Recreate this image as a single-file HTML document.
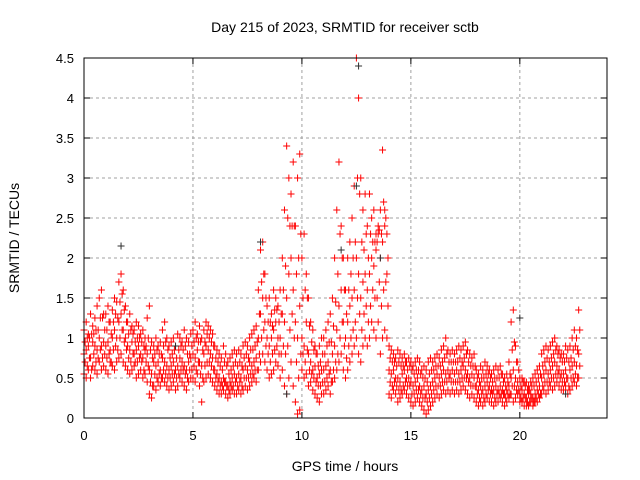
<!DOCTYPE html>
<html><head><meta charset="utf-8"><style>
html,body{margin:0;padding:0;background:#fff;}
svg{display:block;font-family:"Liberation Sans",sans-serif;}
</style></head><body>
<svg id="chart" width="640" height="480" viewBox="0 0 640 480"></svg>
<script>
const xTicks=[0,5,10,15,20];
const yTicks=[0,0.5,1,1.5,2,2.5,3,3.5,4,4.5];
const yTickLabels=["0","0.5","1","1.5","2","2.5","3","3.5","4","4.5"];
const timeStep=0.1;
const lo=[.55,.5,.6,.5,.65,.6,.55,.7,.6,.65, .6,.55,.7,.65,.6,.7,.75,.8,.7,.65, .6,.55,.6,.65,.5,.55,.6,.5,.55,.45, .3,.25,.4,.35,.45,.4,.5,.45,.4,.35, .4,.45,.35,.4,.5,.45,.4,.35,.45,.5, .5,.45,.55,.4,.2,.45,.5,.55,.5,.45, .4,.35,.3,.3,.35,.3,.25,.3,.35,.3, .3,.35,.3,.35,.4,.35,.4,.45,.5,.45, .6,.7,.8,.7,.6,.5,.55,.6,.7,.65, .5,.6,.4,.3,.5,.7,.4,.2,.05,.1, .6,.5,.55,.4,.45,.35,.3,.25,.2,.3, .3,.35,.4,.3,.45,.5,.6,.7,.8,.6, .5,.6,.7,.8,.9,1.0,.8,.7,.9,1.0, .9,1.0,1.2,1.1,1.0,1.2,.8,1.0,1.1,1.0, .3,.25,.35,.3,.2,.25,.3,.35,.3,.25, .2,.15,.2,.25,.2,.15,.1,.05,.1,.15, .2,.25,.3,.25,.3,.35,.3,.35,.3,.35, .3,.35,.3,.35,.4,.35,.3,.25,.3,.25, .2,.15,.2,.15,.2,.25,.2,.2,.15,.2, .2,.25,.2,.15,.2,.25,.3,.2,.25,.3, .2,.2,.15,.15,.15,.2,.15,.2,.2,.25, .3,.35,.3,.35,.4,.35,.4,.45,.4,.35, .35,.4,.3,.35,.4,.45,.4,.5];
const mid=[.8,.85,.9,.75,.95,.9,.85,1.0,.9,.95, .9,.95,.85,1.0,1.1,1.0,1.2,1.3,1.1,1.0, .9,.85,.95,.8,.85,.9,.8,.75,.85,.8, .6,.55,.7,.65,.7,.6,.75,.7,.65,.6, .65,.7,.6,.65,.75,.7,.65,.6,.7,.75, .8,.75,.85,.7,.65,.8,.9,.85,.8,.75, .6,.55,.5,.45,.5,.45,.4,.45,.5,.55, .5,.55,.5,.6,.65,.6,.7,.65,.7,.75, 1.0,1.3,1.5,1.2,1.0,.9,1.0,1.1,1.2,1.0, 1.0,1.3,1.2,1.5,1.8,2.0,1.6,1.2,1.0,1.4, 1.0,.9,1.2,.8,.7,.6,.65,.5,.55,.6, .6,.65,.7,.6,.8,.9,1.1,1.4,1.6,1.2, 1.0,1.2,1.4,1.5,1.6,2.0,1.8,1.5,1.7,1.8, 1.6,1.8,2.0,1.9,2.1,2.3,2.0,2.2,2.4,1.8, .6,.55,.6,.5,.5,.45,.55,.6,.5,.5, .45,.4,.45,.5,.4,.35,.4,.3,.35,.4, .45,.5,.55,.5,.55,.6,.55,.6,.55,.6, .55,.6,.55,.6,.65,.6,.55,.5,.55,.5, .4,.35,.4,.35,.4,.45,.4,.35,.35,.4, .35,.4,.35,.3,.35,.4,.5,.6,.5,.45, .3,.35,.3,.25,.3,.3,.25,.3,.35,.4, .5,.55,.6,.55,.6,.65,.7,.65,.6,.55, .55,.6,.5,.6,.65,.7,.65,.8];
const hi=[1.1,1.2,1.05,1.3,1.15,1.25,1.4,1.5,1.6,1.3, 1.3,1.4,1.2,1.35,1.5,1.45,1.7,1.8,1.6,1.4, 1.2,1.3,1.15,1.1,1.2,1.15,1.05,1.1,1.0,1.25, 1.4,.95,.9,1.0,.9,.95,1.1,1.2,1.0,.9, .95,1.0,.9,1.05,1.0,.95,1.1,1.0,.95,1.05, 1.1,1.2,1.05,1.15,1.0,1.1,1.2,1.15,1.1,1.05, .9,.85,.8,.75,.9,.8,.7,.75,.8,.85, .8,.85,.8,.9,.95,.9,1.0,1.05,1.1,1.15, 1.6,2.1,2.2,1.8,1.4,1.5,1.3,1.6,1.5,1.4, 1.6,2.0,2.6,3.4,3.0,2.8,3.2,2.4,3.0,3.3, 2.0,2.3,1.8,1.5,1.2,1.1,.9,.8,.9,1.0, 1.0,1.1,1.2,1.3,1.5,2.0,2.6,3.2,2.4,2.0, 1.6,2.0,2.2,2.5,2.9,4.5,4.0,3.0,2.6,2.8, 2.4,2.8,2.5,2.6,2.3,2.4,2.6,3.35,2.6,2.3, .9,.85,.8,.75,.85,.8,.75,.8,.7,.75, .7,.65,.7,.75,.7,.6,.65,.6,.7,.75, .7,.75,.8,.75,.85,.9,1.0,.85,.8,.85, .8,.85,.9,.85,.9,.95,.85,.8,.75,.8, .6,.55,.65,.6,.7,.65,.6,.55,.6,.65, .6,.65,.55,.5,.55,.7,1.2,1.35,.9,.7, .5,.5,.45,.45,.4,.45,.5,.55,.6,.65, .8,.85,.9,.85,.9,.95,1.0,.9,.85,.8, .8,.9,.85,.9,1.0,1.1,1.0,1.35];
const q1=[.7,.65,.75,.6,.8,.7,.75,.85,.75,.8, .75,.8,.7,.85,.9,.85,1.0,1.1,.95,.85, .75,.7,.8,.7,.7,.75,.7,.6,.7,.65, .45,.4,.55,.5,.55,.5,.6,.55,.5,.5, .55,.55,.5,.55,.6,.6,.55,.5,.6,.6, .65,.6,.7,.55,.5,.65,.7,.7,.65,.6, .5,.45,.4,.4,.45,.4,.35,.4,.4,.45, .4,.45,.4,.5,.5,.5,.55,.55,.6,.6, .8,1.0,1.1,.9,.8,.7,.8,.85,.9,.8, .8,.9,.8,.9,1.1,1.3,1.0,.7,.5,.8, .8,.7,.85,.6,.55,.5,.45,.4,.4,.45, .45,.5,.55,.45,.6,.7,.8,1.0,1.2,.9, .75,.9,1.0,1.1,1.2,1.5,1.3,1.1,1.3,1.4, 1.2,1.4,1.6,1.5,1.5,1.7,1.4,1.6,1.7,1.4, .45,.4,.45,.4,.35,.35,.4,.45,.4,.4, .3,.3,.35,.35,.3,.25,.25,.2,.25,.3, .35,.4,.4,.4,.45,.45,.45,.5,.45,.45, .45,.45,.45,.5,.5,.5,.45,.4,.4,.4, .3,.25,.3,.25,.3,.35,.3,.3,.25,.3, .3,.3,.3,.25,.3,.3,.4,.4,.35,.35, .25,.25,.25,.2,.2,.25,.2,.25,.3,.3, .4,.45,.45,.45,.5,.5,.55,.55,.5,.45, .45,.5,.4,.5,.5,.55,.5,.65];
const q3=[.95,1.0,1.0,1.05,1.05,1.1,1.1,1.25,1.25,1.1, 1.1,1.2,1.05,1.2,1.3,1.25,1.45,1.55,1.35,1.2, 1.05,1.1,1.05,.95,1.0,1.0,.95,.9,.9,1.0, .85,.75,.8,.85,.8,.8,.9,.95,.85,.75, .8,.85,.75,.85,.9,.85,.9,.8,.8,.9, .95,1.0,.95,.95,.85,.95,1.05,1.0,.95,.9, .75,.7,.65,.6,.7,.65,.55,.6,.65,.7, .65,.7,.65,.75,.8,.75,.85,.85,.9,.95, 1.3,1.7,1.8,1.5,1.2,1.2,1.15,1.35,1.35,1.2, 1.3,1.6,1.9,2.5,2.4,2.4,2.4,1.8,2.0,2.3, 1.5,1.6,1.5,1.15,.95,.85,.8,.65,.7,.8, .8,.9,.95,.95,1.15,1.45,1.8,2.3,2.0,1.6, 1.3,1.6,1.8,2.0,2.2,3.0,2.8,2.2,2.1,2.3, 2.0,2.3,2.2,2.2,2.2,2.35,2.3,2.7,2.5,2.0, .75,.7,.7,.65,.7,.65,.65,.7,.6,.65, .6,.55,.6,.6,.55,.5,.5,.45,.55,.6, .6,.65,.65,.65,.7,.75,.8,.7,.7,.7, .7,.7,.75,.7,.75,.8,.7,.65,.65,.65, .5,.45,.5,.5,.55,.55,.5,.45,.5,.5, .5,.55,.45,.4,.45,.55,.85,.95,.7,.6, .4,.45,.4,.35,.35,.4,.4,.45,.5,.55, .65,.7,.75,.7,.75,.8,.85,.8,.75,.7, .7,.75,.7,.75,.85,.9,.85,1.1];
const blackX=[1.7,8.1,9.3,12.6,12.5,20.0,11.8,13.6,4.2,22.1];
const blackY=[2.15,2.2,0.3,4.4,2.9,1.25,2.1,2.0,0.9,0.3];

const L=84,R=607,T=58,B=418;
const xScale=h=>L+h/24*(R-L);
const yScale=v=>B-v/4.5*(B-T);
const svg=document.getElementById('chart');
const NS='http://www.w3.org/2000/svg';
function mk(tag,attrs,parent){const e=document.createElementNS(NS,tag);for(const k in attrs)e.setAttribute(k,attrs[k]);(parent||svg).appendChild(e);return e;}

const grid=mk('g',{});


yTicks.forEach((v,i)=>{
  const y=yScale(v);
  if(v>0&&v<4.5){const g=mk('line',{x1:L,x2:R,y1:y,y2:y,stroke:'#a0a0a0','stroke-dasharray':'3,3','stroke-width':1},grid);
  
  }
  const t=mk('line',{x1:L,x2:L+6,y1:y,y2:y,stroke:'#000'});
  
  
  const t2=mk('line',{x1:R,x2:R-6,y1:y,y2:y,stroke:'#000'});
  
  
  const lab=mk('text',{x:L-10,y:y+5,'text-anchor':'end','font-size':13,fill:'#000'});
  lab.textContent=yTickLabels[i];
  
  
});
xTicks.forEach(h=>{
  const x=xScale(h);
  if(h>0){const g=mk('line',{x1:x,x2:x,y1:T,y2:B,stroke:'#a0a0a0','stroke-dasharray':'3,3','stroke-width':1},grid);
  
  }
  const t=mk('line',{x1:x,x2:x,y1:B,y2:B-6,stroke:'#000'});
  
  
  const t2=mk('line',{x1:x,x2:x,y1:T,y2:T+6,stroke:'#000'});
  
  
  const lab=mk('text',{x:x,y:B+22,'text-anchor':'middle','font-size':13,fill:'#000'});
  lab.textContent=String(h);
  
  
});

const pts=mk('g',{stroke:'#ff0000','stroke-width':1});


function plus(x,y,g){const p=mk('path',{d:`M${x-3.5},${y}h7M${x},${y-3.5}v7`},g);return p;}
[lo,mid,hi].forEach(arr=>{
  arr.forEach((v,i)=>{
    const p=plus(xScale(i*timeStep),yScale(v),pts);
    
    
  });
});
[q1,q3].forEach(arr=>{
  arr.forEach((v,i)=>{
    const p=plus(xScale((i+0.5)*timeStep),yScale(v),pts);
    
    
  });
});
const bpts=mk('g',{stroke:'#303030','stroke-width':1});


blackX.forEach((h,i)=>{
  const p=plus(xScale(h),yScale(blackY[i]),bpts);
  
  
});

const frame=mk('rect',{x:L,y:T,width:R-L,height:B-T,fill:'none',stroke:'#000','stroke-width':1});



const title=mk('text',{x:345,y:32,'text-anchor':'middle','font-size':14,fill:'#000'});
title.textContent='Day 215 of 2023, SRMTID for receiver sctb';


const xl=mk('text',{x:345,y:471,'text-anchor':'middle','font-size':14,fill:'#000'});
xl.textContent='GPS time / hours';


const yl=mk('text',{x:0,y:0,'text-anchor':'middle','font-size':14,fill:'#000',transform:'translate(19,238) rotate(-90)'});
yl.textContent='SRMTID / TECUs';


</script>
</body></html>
